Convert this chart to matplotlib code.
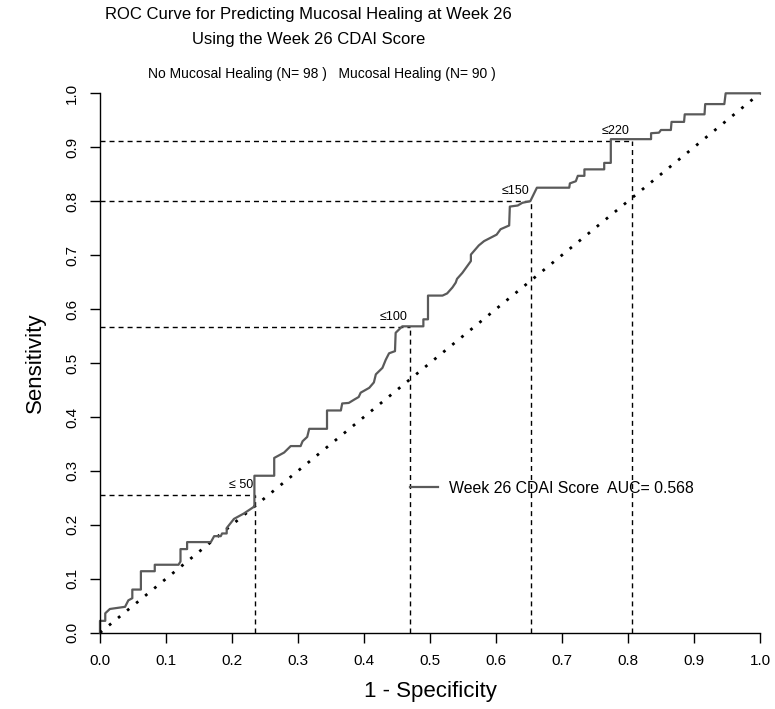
import matplotlib
matplotlib.use('agg')
import matplotlib.pyplot as plt

plt.rcParams['font.family'] = ['Liberation Sans', 'DejaVu Sans']

# ROC curve vertices (1 - specificity, sensitivity)
fpr = [0.000, 0.000, 0.008, 0.008, 0.015, 0.038, 0.043, 0.049, 0.049, 0.062,
       0.062, 0.083, 0.083, 0.119, 0.122, 0.122, 0.132, 0.132, 0.168, 0.173,
       0.183, 0.185, 0.192, 0.192, 0.203, 0.218, 0.234, 0.234, 0.264, 0.264,
       0.279, 0.289, 0.304, 0.307, 0.314, 0.317, 0.344, 0.344, 0.365, 0.367,
       0.377, 0.385, 0.392, 0.395, 0.408, 0.415, 0.418, 0.428, 0.433, 0.438,
       0.447, 0.448, 0.458, 0.490, 0.490, 0.497, 0.497, 0.519, 0.526, 0.534,
       0.539, 0.541, 0.549, 0.562, 0.562, 0.574, 0.582, 0.601, 0.607, 0.620,
       0.621, 0.633, 0.640, 0.652, 0.662, 0.711, 0.712, 0.721, 0.724, 0.734,
       0.734, 0.764, 0.764, 0.774, 0.774, 0.835, 0.835, 0.847, 0.850, 0.865,
       0.866, 0.885, 0.886, 0.916, 0.917, 0.946, 0.948, 1.000]
tpr = [0.000, 0.022, 0.022, 0.036, 0.044, 0.048, 0.060, 0.064, 0.080, 0.080,
       0.114, 0.114, 0.126, 0.126, 0.132, 0.155, 0.155, 0.168, 0.168, 0.179,
       0.179, 0.184, 0.184, 0.194, 0.211, 0.221, 0.234, 0.291, 0.291, 0.324,
       0.334, 0.346, 0.346, 0.355, 0.363, 0.378, 0.378, 0.412, 0.412, 0.425,
       0.426, 0.432, 0.437, 0.445, 0.454, 0.464, 0.479, 0.491, 0.506, 0.518,
       0.522, 0.556, 0.568, 0.568, 0.581, 0.581, 0.625, 0.625, 0.629, 0.640,
       0.649, 0.656, 0.667, 0.689, 0.701, 0.718, 0.726, 0.738, 0.748, 0.755,
       0.790, 0.792, 0.797, 0.800, 0.825, 0.825, 0.833, 0.837, 0.847, 0.847,
       0.859, 0.859, 0.871, 0.871, 0.915, 0.915, 0.926, 0.927, 0.932, 0.932,
       0.947, 0.947, 0.961, 0.961, 0.980, 0.980, 1.000, 1.000]

# marked cut points
cut_labels = ["\u2264 50", "\u2264100", "\u2264150", "\u2264220"]
cut_fpr = [0.235, 0.469, 0.653, 0.806]
cut_tpr = [0.256, 0.567, 0.800, 0.911]

ticks = [0.0, 0.1, 0.2, 0.3, 0.4, 0.5, 0.6, 0.7, 0.8, 0.9, 1.0]
tick_labels = ["0.0", "0.1", "0.2", "0.3", "0.4", "0.5", "0.6", "0.7", "0.8", "0.9", "1.0"]

title1 = "ROC Curve for Predicting Mucosal Healing at Week 26"
title2 = "Using the Week 26 CDAI Score"
subtitle = "No Mucosal Healing (N= 98 )   Mucosal Healing (N= 90 )"
legend_label = "Week 26 CDAI Score  AUC= 0.568"

fig = plt.figure(figsize=(7.75, 7.09), dpi=100)
ax = fig.add_axes([0.129, 0.1076, 0.8516, 0.7608])

# reference diagonal
ax.plot([0, 1], [0, 1], color='black', lw=2, linestyle=(0, (1, 3.2)), clip_on=False)

# dashed guides to each cut point
for lab, fx, ty in zip(cut_labels, cut_fpr, cut_tpr):
    ax.plot([0, fx], [ty, ty], color='black', lw=1, linestyle=(0, (3.6, 2.9)), clip_on=False)
    ax.plot([fx, fx], [0, ty], color='black', lw=1, linestyle=(0, (3.6, 2.9)), clip_on=False)
    ax.annotate(lab, (fx, ty), xytext=(-2, 4), textcoords='offset pixels',
                ha='right', va='bottom', fontsize=9)

ax.plot(fpr, tpr, color='#5a5a5a', lw=1.6, clip_on=False, label=legend_label)

ax.legend(loc='center left', bbox_to_anchor=(0.4695, 0.268), frameon=False,
          fontsize=11.4, handlelength=1.75, handletextpad=0.75,
          borderpad=0, borderaxespad=0)

ax.set_xlim(0, 1)
ax.set_ylim(0, 1)
ax.set_xticks(ticks)
ax.set_xticklabels(tick_labels)
ax.set_yticks(ticks)
ax.set_yticklabels(tick_labels, rotation=90, va='center')
ax.tick_params(direction='out', length=7, width=1, labelsize=11, pad=8)
for s in ['top', 'right']:
    ax.spines[s].set_visible(False)
ax.spines['left'].set_linewidth(1)
ax.spines['bottom'].set_linewidth(1)

ax.set_xlabel("1 - Specificity", fontsize=16, labelpad=10)
ax.set_ylabel("Sensitivity", fontsize=16, labelpad=14)

fig.text(0.398, 0.99, title1, ha='center', va='top', fontsize=12)
fig.text(0.398, 0.955, title2, ha='center', va='top', fontsize=12)
fig.text(0.415, 0.905, subtitle, ha='center', va='top', fontsize=10)

fig.savefig("out.png", dpi=100)
